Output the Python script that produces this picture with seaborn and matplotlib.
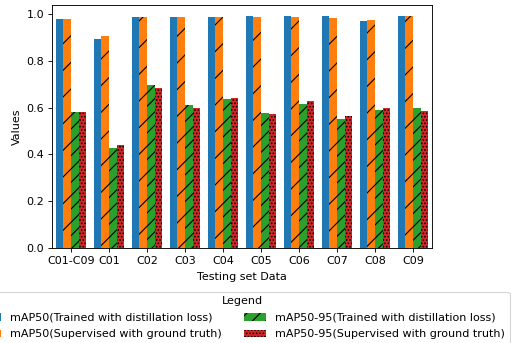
import pandas as pd
import matplotlib
matplotlib.use('Agg')
import matplotlib.pyplot as plt
import seaborn as sns

categories = ['C01-C09', 'C01', 'C02', 'C03', 'C04', 'C05', 'C06', 'C07', 'C08', 'C09']
map50_distill = [0.979, 0.891, 0.986, 0.986, 0.986, 0.989, 0.989, 0.989, 0.970, 0.989]
map50_gt = [0.976, 0.903, 0.986, 0.986, 0.986, 0.986, 0.986, 0.980, 0.973, 0.989]
map5095_distill = [0.579, 0.428, 0.695, 0.610, 0.635, 0.576, 0.615, 0.551, 0.589, 0.600]
map5095_gt = [0.581, 0.440, 0.682, 0.600, 0.641, 0.571, 0.628, 0.563, 0.597, 0.584]

series = ['mAP50(Trained with distillation loss)', 'mAP50(Supervised with ground truth)',
          'mAP50-95(Trained with distillation loss)', 'mAP50-95(Supervised with ground truth)']
hatches = ['', '/', '//', '....']

rows = []
for name, vals in zip(series, [map50_distill, map50_gt, map5095_distill, map5095_gt]):
    for c, v in zip(categories, vals):
        rows.append({'Category': c, 'Series': name, 'Value': v})
df = pd.DataFrame(rows)

dpi = 80
fig = plt.figure(figsize=(512 / dpi, 343 / dpi), dpi=dpi)
ax = fig.add_axes([0.1016, 0.2761, 0.7422, 0.7102])
sns.barplot(data=df, x='Category', y='Value', hue='Series', hue_order=series,
            palette=['#1f77b4', '#ff7f0e', '#2ca02c', '#d62728'], saturation=1,
            ax=ax, legend=False)

for cont, h in zip(ax.containers, hatches):
    for p in cont.patches:
        p.set_edgecolor('black')
        p.set_linewidth(0)
        p.set_hatch(h)

ax.set_xlabel('Testing set Data', labelpad=5)
ax.set_ylabel('Values')
ax.set_xlim(-0.5, 9.5)
ax.autoscale(axis='y')

ax.legend(handles=list(ax.containers), labels=series, title='Legend', ncol=2,
          loc='upper center', bbox_to_anchor=(0.5, -0.155), labelspacing=0.6)

fig.savefig('out.png', dpi=dpi)
